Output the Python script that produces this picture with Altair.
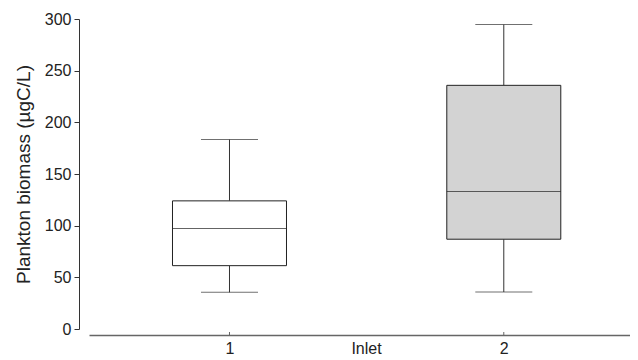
import altair as alt
import pandas as pd

inlets = ["1", "2"]
positions = [1, 2]
lows = [35.5, 35.8]
q1s = [61.3, 86.9]
medians = [97.2, 133.0]
q3s = [124.0, 235.8]
highs = [183.4, 294.6]

df = pd.DataFrame({
    "inlet": inlets, "pos": positions, "low": lows, "q1": q1s,
    "median": medians, "q3": q3s, "high": highs,
})

FONT = "Liberation Sans"
W, H = 541, 310
xscale = alt.Scale(domain=[0.4878, 2.4601], nice=False, zero=False, padding=0)
yscale = alt.Scale(domain=[0, 300], nice=False, padding=0)

xax = alt.Axis(values=[1, 2], labelExpr="datum.value == 1 ? '1' : '2'", ticks=False,
               offset=6, domainColor="#666", domainWidth=1.5, labelFontSize=16,
               labelFont=FONT, labelColor="#222", labelPadding=5, grid=False,
               title="Inlet", titleFont=FONT, titleFontSize=16, titleFontWeight="normal",
               titleColor="#222", titleBaseline="top", titleY=5, titleX=277,
               titleAnchor="middle")
yax = alt.Axis(values=[0, 50, 100, 150, 200, 250, 300], tickSize=5, tickColor="#333",
               domainColor="#333", offset=10, labelFontSize=16, labelFont=FONT,
               labelColor="#222", labelPadding=3, grid=False,
               title="Plankton biomass (µgC/L)", titleFont=FONT, titleFontSize=19,
               titleFontWeight="normal", titleColor="#222", titleX=-56, titleY=155,
               titleAlign="center", titleBaseline="middle")

base = alt.Chart(df)
x = alt.X("pos:Q", scale=xscale, axis=xax)

whisk_lo = base.mark_rule(color="#333", strokeWidth=1).encode(
    x=x, y=alt.Y("low:Q", scale=yscale, axis=yax), y2="q1:Q")
whisk_hi = base.mark_rule(color="#333", strokeWidth=1).encode(
    x=alt.X("pos:Q"), y=alt.Y("q3:Q"), y2="high:Q")
boxes = base.mark_bar(size=114, stroke="#222", strokeWidth=1).encode(
    x=alt.X("pos:Q"), y=alt.Y("q1:Q"), y2="q3:Q",
    fill=alt.Fill("inlet:N", scale=alt.Scale(domain=inlets, range=["white", "#d3d3d3"]), legend=None))
meds = base.mark_tick(orient="horizontal", size=114, thickness=1, color="#222").encode(
    x=alt.X("pos:Q"), y=alt.Y("median:Q"))
caps_lo = base.mark_tick(orient="horizontal", size=57, thickness=1, color="#333").encode(
    x=alt.X("pos:Q"), y=alt.Y("low:Q"))
caps_hi = base.mark_tick(orient="horizontal", size=57, thickness=1, color="#333").encode(
    x=alt.X("pos:Q"), y=alt.Y("high:Q"))
xticks = base.mark_rule(color="#666", strokeWidth=1).encode(
    x=alt.X("pos:Q"), y=alt.value(H + 3), y2=alt.value(H + 6))

chart = alt.layer(whisk_lo, whisk_hi, boxes, meds, caps_lo, caps_hi, xticks).properties(
    width=W, height=H,
    autosize=alt.AutoSizeParams(type="none"),
    padding={"left": 81, "top": 11, "right": 0, "bottom": 30},
).configure_view(stroke=None).configure_tick(bandSize=114)

chart.save("out.html", embed_options={"renderer": "svg", "actions": False})
